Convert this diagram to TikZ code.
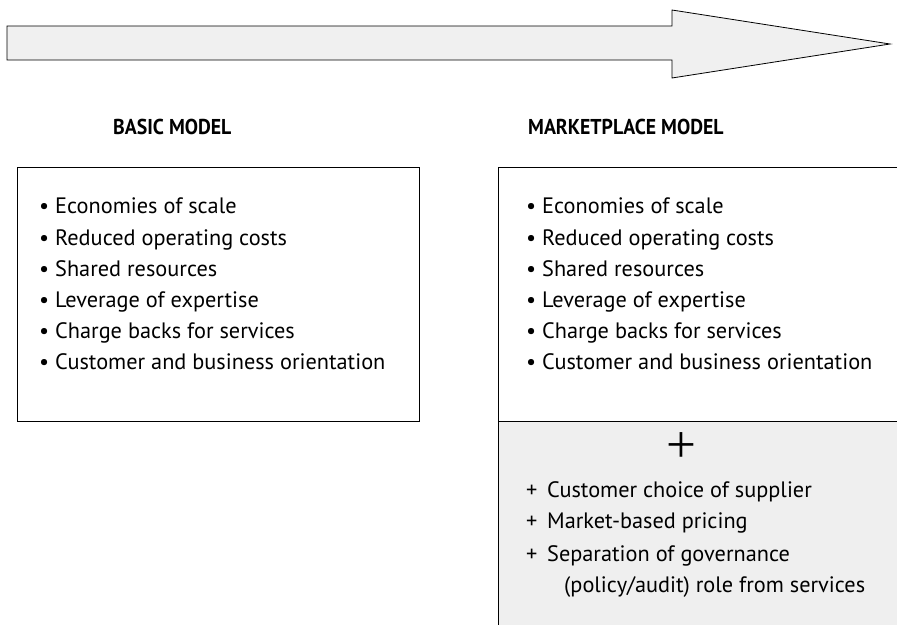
\documentclass[tikz,border=0pt]{standalone}
\usepackage{fontspec}
\setmainfont{PT Sans}
\newfontfamily\headfont[FakeStretch=0.92]{PT Sans}
\newfontfamily\plusfont{Liberation Serif}
\definecolor{arrowgray}{HTML}{F0F0F0}
\definecolor{panelgray}{HTML}{EFEFEF}
\begin{document}
\begin{tikzpicture}[x=1pt,y=-1pt,
  frame/.style={draw=black, line width=0.8pt},
  head/.style={anchor=base west, inner sep=0pt, font=\headfont\bfseries\fontsize{21.5}{22}\selectfont},
  item/.style={anchor=base west, inner sep=0pt, font=\fontsize{22.3}{24}\selectfont},
]
\useasboundingbox (0,0) rectangle (897,624);
% big arrow
\draw[frame, fill=arrowgray, line join=miter]
  (7,26) -- (672,26) -- (672,10) -- (890,44) -- (672,78) -- (672,60) -- (7,60) -- cycle;
% headings
\node[head] (h1) at (113,134) {BASIC MODEL};
\node[head] (h2) at (528,134) {MARKETPLACE MODEL};
% basic box
\draw[frame] (17,167) rectangle (419,421);
% marketplace box
\fill[panelgray] (498,421) rectangle (900,630);
\draw[frame] (900,167) -- (498,167) -- (498,630);
\draw[frame] (498,421) -- (900,421);
% items
\foreach \n/\y/\t in {1/213/Economies of scale, 2/245/Reduced operating costs, 3/276/Shared resources,
  4/307/Leverage of expertise, 5/338/Charge backs for services, 6/369/Customer and business orientation}{
  \node[item] (a\n) at (39,\y) {\makebox[16pt][l]{•}\t};
  \node[item] (b\n) at (526,\y) {\makebox[16pt][l]{•}\t};
}
\node[inner sep=0pt, font=\plusfont\fontsize{53}{53}\selectfont] (plus) at (681,448) {+};
\node[item] (c1) at (526,497) {\makebox[21pt][l]{+}Customer choice of supplier};
\node[item] (c2) at (526,528) {\makebox[21pt][l]{+}Market-based pricing};
\node[item] (c3) at (526,561) {\makebox[21pt][l]{+}Separation of governance};
\node[item] (c4) at (564,592) {(policy/audit) role from services};
\end{tikzpicture}
\end{document}
